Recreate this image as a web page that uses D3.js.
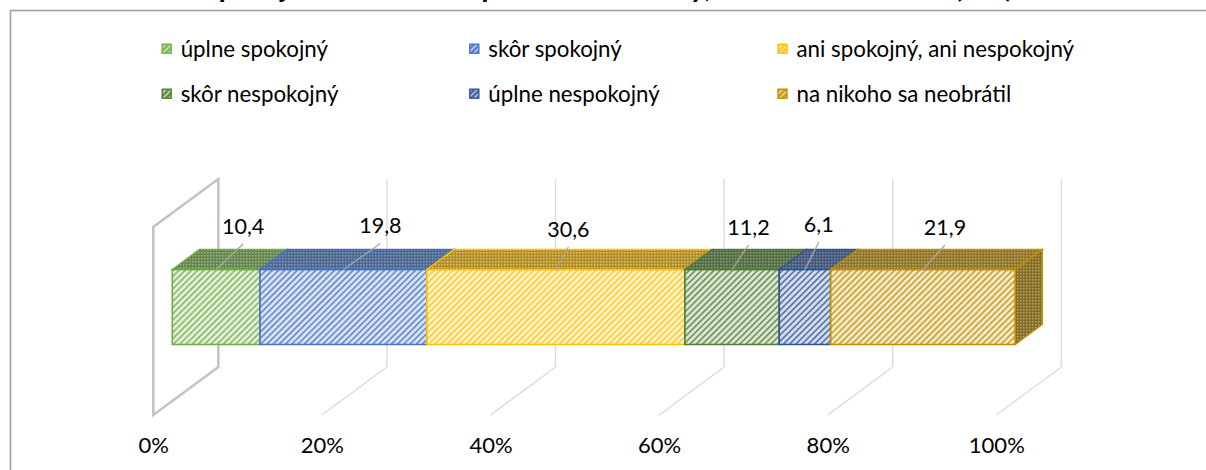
<!DOCTYPE html>
<html><head><meta charset="utf-8">
<script src="https://cdn.jsdelivr.net/npm/d3@7"></script>
<style>html,body{margin:0;padding:0;background:#fff;overflow:hidden}</style>
</head><body>
<svg id="chart" width="1206" height="470"></svg>
<script>
// ---------- data ----------
const titleText = "Spokojnosť s riešením problému u osoby, na ktorú sa obrátil (v %)";
const categories = ["úplne spokojný", "skôr spokojný", "ani spokojný, ani nespokojný",
                    "skôr nespokojný", "úplne nespokojný", "na nikoho sa neobrátil"];
const values = [10.4, 19.8, 30.6, 11.2, 6.1, 21.9];
const tickValues = [0, 20, 40, 60, 80, 100];
const tickLabels = ["0%", "20%", "40%", "60%", "80%", "100%"];

// ---------- style / layout ----------
const colors = ["#70AD47", "#4472C4", "#FFC000", "#507E32", "#2F5597", "#BF9000"];
const labelShiftX = [27, 37, 12.5, 16.4, 13.8, 22];
const labelShiftY = [-35.5, -36, -32.5, -34.5, -37.5, -34.5];
const FONT = "Lato, 'Open Sans', sans-serif";
const OX = 153.3, OY = 415, AXIS_W = 843, WALL_H = 188, DEPTH_X = 65, DEPTH_Y = 48;

const svg = d3.select("#chart");
const fmt = d3.formatLocale({decimal: ",", thousands: " ", grouping: [3], currency: ["", "€"]}).format(".1f");

// frame
svg.append("rect").attr("x", 10.5).attr("y", 10.5).attr("width", 1400).attr("height", 600)
  .attr("fill", "#fff").attr("stroke", "#a0a0a0").attr("stroke-width", 1.6);

// title (cut off at the top edge, as in the reference)
svg.append("text").attr("x", 205).attr("y", -3).attr("font-family", FONT)
  .attr("font-weight", "bold").attr("font-style", "italic").attr("font-size", 30)
  .attr("fill", "#000").text(titleText);

// patterns
const defs = svg.append("defs");
function mix(c, w, t) { return d3.interpolateRgb(c, w)(t); }
colors.forEach((c, i) => {
  const pf = defs.append("pattern").attr("id", "f" + i).attr("patternUnits", "userSpaceOnUse")
    .attr("width", 4.4).attr("height", 4.4).attr("patternTransform", "rotate(45)");
  pf.append("rect").attr("width", 4.4).attr("height", 4.4).attr("fill", mix(c, "#fff", 0.8));
  pf.append("rect").attr("width", 1.7).attr("height", 4.4).attr("fill", mix(c, "#fff", 0.2));
  const pl = defs.append("pattern").attr("id", "l" + i).attr("patternUnits", "userSpaceOnUse")
    .attr("width", 4).attr("height", 4).attr("patternTransform", "rotate(45)");
  pl.append("rect").attr("width", 4).attr("height", 4).attr("fill", mix(c, "#fff", 0.1));
  pl.append("rect").attr("width", 1.3).attr("height", 4).attr("fill", mix(c, "#fff", 0.75));
  const pt = defs.append("pattern").attr("id", "t" + i).attr("patternUnits", "userSpaceOnUse")
    .attr("width", 3).attr("height", 3);
  pt.append("rect").attr("width", 3).attr("height", 3).attr("fill", mix(c, "#5a5a5a", 0.5));
  pt.append("rect").attr("width", 1.5).attr("height", 1.5).attr("fill", mix(c, "#c8c8c8", 0.45));
  const pr = defs.append("pattern").attr("id", "r" + i).attr("patternUnits", "userSpaceOnUse")
    .attr("width", 3).attr("height", 3);
  pr.append("rect").attr("width", 3).attr("height", 3).attr("fill", mix(c, "#505050", 0.55));
  pr.append("rect").attr("width", 1.5).attr("height", 1.5).attr("fill", mix(c, "#bbbbbb", 0.45));
});

// scales
const x = d3.scaleLinear().domain([0, 100]).range([0, AXIS_W]);
const xFloor = d3.scaleLinear().domain([0, 100]).range([OX, OX + AXIS_W]);
const hBand = d3.scaleBand().domain(["all"]).range([0, WALL_H]).padding(0.43);
const dBand = d3.scaleBand().domain(["all"]).range([0, 1]).padding(0.4134);
const h0 = hBand("all"), h1 = h0 + hBand.bandwidth();
const d0 = dBand("all"), d1 = d0 + dBand.bandwidth();
const P = (v, h, d) => [OX + x(v) + d * DEPTH_X, OY - h - d * DEPTH_Y];
const poly = pts => pts.map(p => p.join(",")).join(" ");

// gridlines
const grid = svg.append("g");
tickValues.slice(1).forEach(t => {
  grid.append("line").attr("x1", P(t, 0, 1)[0]).attr("y1", P(t, 0, 1)[1])
    .attr("x2", P(t, WALL_H, 1)[0]).attr("y2", P(t, WALL_H, 1)[1])
    .attr("stroke", "#d9d9d9").attr("stroke-width", 1.3);
  grid.append("line").attr("x1", P(t, 0, 0)[0]).attr("y1", P(t, 0, 0)[1])
    .attr("x2", P(t, 0, 1)[0]).attr("y2", P(t, 0, 1)[1])
    .attr("stroke", "#d9d9d9").attr("stroke-width", 1.3);
});
// side wall at 0%
grid.append("polygon")
  .attr("points", poly([P(0, 0, 0), P(0, WALL_H, 0), P(0, WALL_H, 1), P(0, 0, 1)]))
  .attr("fill", "none").attr("stroke", "#c4c4c4").attr("stroke-width", 2.6);

// stacked bar
const row = Object.fromEntries(categories.map((c, i) => [c, values[i]]));
const series = d3.stack().keys(categories)([row]);
const bars = svg.append("g");
series.forEach((s, i) => {
  const [v0, v1] = s[0];
  bars.append("polygon").attr("points", poly([P(v0, h0, d0), P(v1, h0, d0), P(v1, h1, d0), P(v0, h1, d0)]))
    .attr("fill", `url(#f${i})`).attr("stroke", colors[i]).attr("stroke-width", 1.6);
  bars.append("polygon").attr("points", poly([P(v0, h1, d0), P(v1, h1, d0), P(v1, h1, d1), P(v0, h1, d1)]))
    .attr("fill", `url(#t${i})`).attr("stroke", colors[i]).attr("stroke-width", 1.4);
  if (i === series.length - 1) {
    bars.append("polygon").attr("points", poly([P(v1, h0, d0), P(v1, h0, d1), P(v1, h1, d1), P(v1, h1, d0)]))
      .attr("fill", `url(#r${i})`).attr("stroke", colors[i]).attr("stroke-width", 1.4);
  }
});

// data labels with leader lines
const labels = svg.append("g");
series.forEach((s, i) => {
  const [v0, v1] = s[0];
  const anchor = P((v0 + v1) / 2, h1, d0);
  const lx = anchor[0] + labelShiftX[i], ly = anchor[1] + labelShiftY[i];
  labels.append("line").attr("x1", lx).attr("y1", ly + 10).attr("x2", anchor[0]).attr("y2", anchor[1])
    .attr("stroke", "#a6a6a6").attr("stroke-width", 1.3);
  labels.append("text").attr("x", lx).attr("y", ly).attr("text-anchor", "middle")
    .attr("font-family", FONT).attr("font-size", 21.5).attr("fill", "#000")
    .text(fmt(values[i]));
});

// axis
const axis = d3.axisBottom(xFloor).tickValues(tickValues).tickSize(0)
  .tickFormat((d, i) => tickLabels[i]);
const ag = svg.append("g").attr("transform", "translate(0,453)").call(axis);
ag.select(".domain").remove();
ag.selectAll("text").attr("y", 0).attr("dy", 0).attr("font-family", FONT)
  .attr("font-size", 22).attr("fill", "#000");

// legend
const legX = [161.7, 469.3, 777.5], legY = [56.7, 101.7];
const leg = svg.append("g");
categories.forEach((c, i) => {
  const cx = legX[i % 3], by = legY[Math.floor(i / 3)];
  leg.append("rect").attr("x", cx + 0.5).attr("y", by - 12.5).attr("width", 9).attr("height", 9)
    .attr("fill", `url(#l${i})`).attr("stroke", colors[i]).attr("stroke-width", 1.4);
  leg.append("text").attr("x", cx + 19).attr("y", by).attr("font-family", FONT)
    .attr("font-size", 22.3).attr("fill", "#000").text(c);
});
</script>
</body></html>
